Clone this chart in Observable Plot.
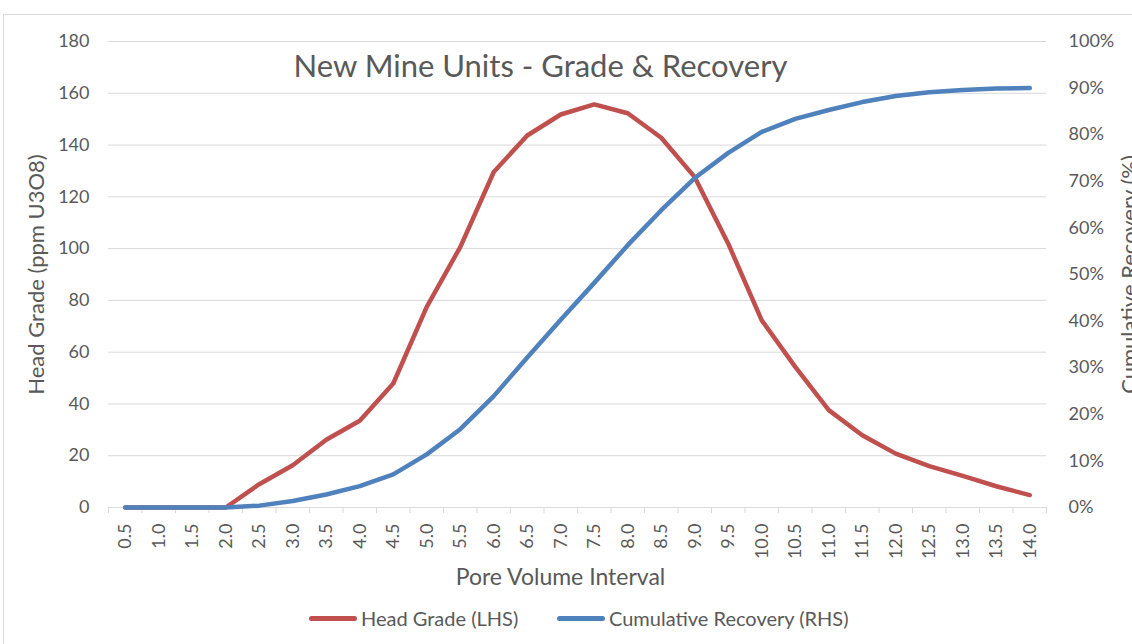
<!DOCTYPE html>
<html>
<head>
<meta charset="utf-8">
<script src="https://cdn.jsdelivr.net/npm/d3@7"></script>
<script src="https://cdn.jsdelivr.net/npm/@observablehq/plot@0.6"></script>
<style>
  body { margin: 0; background: #fff; font-family: Lato, "Open Sans", sans-serif; }
  #wrap { position: relative; width: 1132px; height: 644px; overflow: hidden; background: #fff; }
  #frame { position: absolute; left: 3px; top: 14px; width: 1300px; height: 800px;
           border-top: 1px solid #d9d9d9; border-left: 1px solid #d9d9d9; }
  #chart { position: absolute; left: 0; top: 0; }
  #title { position: absolute; top: 45px; left: 0; width: 1081px; text-align: center;
           font-size: 31px; color: #595959; line-height: 40px; white-space: nowrap; }
  .leg { position: absolute; top: 605px; height: 26px; display: flex; align-items: center;
         font-size: 20px; color: #595959; white-space: nowrap; }
  .sw { display: inline-block; width: 48px; height: 5px; border-radius: 3px; margin-right: 4px; }
</style>
</head>
<body>
<div id="wrap">
  <div id="frame"></div>
  <div id="chart"></div>
  <div id="title">New Mine Units - Grade &amp; Recovery</div>
  <div class="leg" style="left:309px"><span class="sw" style="background:#C0504D"></span>Head Grade (LHS)</div>
  <div class="leg" style="left:557px"><span class="sw" style="background:#4F81BD"></span>Cumulative Recovery (RHS)</div>
</div>
<script>
// Pore volume intervals (x categories) and their tick labels
const intervals = [0.5, 1.0, 1.5, 2.0, 2.5, 3.0, 3.5, 4.0, 4.5, 5.0, 5.5, 6.0, 6.5, 7.0,
                   7.5, 8.0, 8.5, 9.0, 9.5, 10.0, 10.5, 11.0, 11.5, 12.0, 12.5, 13.0, 13.5, 14.0];
const intervalLabels = ["0.5","1.0","1.5","2.0","2.5","3.0","3.5","4.0","4.5","5.0","5.5","6.0","6.5","7.0",
                        "7.5","8.0","8.5","9.0","9.5","10.0","10.5","11.0","11.5","12.0","12.5","13.0","13.5","14.0"];
// Head grade (ppm U3O8), left axis
const headGrade = [0, 0, 0, 0, 9.0, 16.3, 26.2, 33.5, 47.9, 77.5, 100.6, 129.6, 143.7, 151.8,
                   155.7, 152.3, 142.8, 127.6, 101.9, 72.3, 54.3, 37.6, 27.9, 20.8, 16.0, 12.2, 8.2, 4.8];
// Cumulative recovery (%), right axis
const cumRecovery = [0, 0, 0, 0, 0.4, 1.4, 2.8, 4.6, 7.1, 11.4, 16.8, 23.9, 32.2, 40.3,
                     48.2, 56.3, 63.8, 70.7, 76.1, 80.6, 83.4, 85.3, 87.0, 88.3, 89.1, 89.6, 89.9, 90.0];
// Axis ticks
const leftTicks = [0, 20, 40, 60, 80, 100, 120, 140, 160, 180];
const rightTicks = [0, 10, 20, 30, 40, 50, 60, 70, 80, 90, 100];

const leftMax = 180, rightMax = 100;
const k = leftMax / rightMax; // maps % onto the left (ppm) scale

const rows = intervals.map((x, i) => ({x, grade: headGrade[i], rec: cumRecovery[i]}));
const labelOf = new Map(intervals.map((v, i) => [v, intervalLabels[i]]));
const half = (intervals[1] - intervals[0]) / 2;
const boundaries = [intervals[0] - half, ...intervals.map(v => v + half)];

const grid = "#d9d9d9";
const txt = "#595959";

const chart = Plot.plot({
  width: 1132,
  height: 595,
  marginTop: 41,
  marginLeft: 108,
  marginRight: 86,
  marginBottom: 88,
  style: {fontFamily: "Lato, 'Open Sans', sans-serif", color: txt, background: "transparent"},
  x: {type: "linear", domain: [boundaries[0], boundaries[boundaries.length - 1]]},
  y: {domain: [0, leftMax]},
  marks: [
    Plot.gridY(leftTicks, {stroke: grid, strokeOpacity: 1, strokeWidth: 1}),
    Plot.axisX(boundaries, {tickSize: 6, stroke: grid, strokeOpacity: 1, tickFormat: () => "", label: null}),
    Plot.axisX(intervals, {tickSize: 0, tickPadding: 16, tickRotate: -90, fontSize: 18,
      tickFormat: d => labelOf.get(d), fill: txt,
      label: "Pore Volume Interval", labelAnchor: "center", labelArrow: "none", labelOffset: 77}),
    Plot.axisY(leftTicks, {anchor: "left", tickSize: 0, tickPadding: 19, fontSize: 18, fill: txt,
      label: "Head Grade (ppm U3O8)", labelAnchor: "center", labelArrow: "none", labelOffset: 80}),
    Plot.axisY(rightTicks.map(p => p * k), {anchor: "right", tickSize: 0, tickPadding: 22, fontSize: 18, fill: txt,
      tickFormat: d => Math.round(d / k) + "%",
      label: "Cumulative Recovery (%)", labelAnchor: "center", labelArrow: "none", labelOffset: 90}),
    Plot.line(rows, {x: "x", y: "grade", stroke: "#C0504D", strokeWidth: 4.5,
      strokeLinecap: "round", strokeLinejoin: "round"}),
    Plot.line(rows, {x: "x", y: d => d.rec * k, stroke: "#4F81BD", strokeWidth: 4.5,
      strokeLinecap: "round", strokeLinejoin: "round"})
  ]
});
// larger axis titles
chart.querySelectorAll('[aria-label="y-axis label"]').forEach(g => {
  g.setAttribute("font-size", "22");
  g.querySelectorAll("text").forEach(t => t.setAttribute("font-size", "22"));
});
chart.querySelectorAll('[aria-label="x-axis label"]').forEach(g => {
  g.setAttribute("font-size", "23");
  g.querySelectorAll("text").forEach(t => t.setAttribute("font-size", "23"));
  g.setAttribute("transform", ((g.getAttribute("transform") || "") + " translate(-17,0)").trim());
});
document.getElementById("chart").appendChild(chart);
</script>
</body>
</html>
